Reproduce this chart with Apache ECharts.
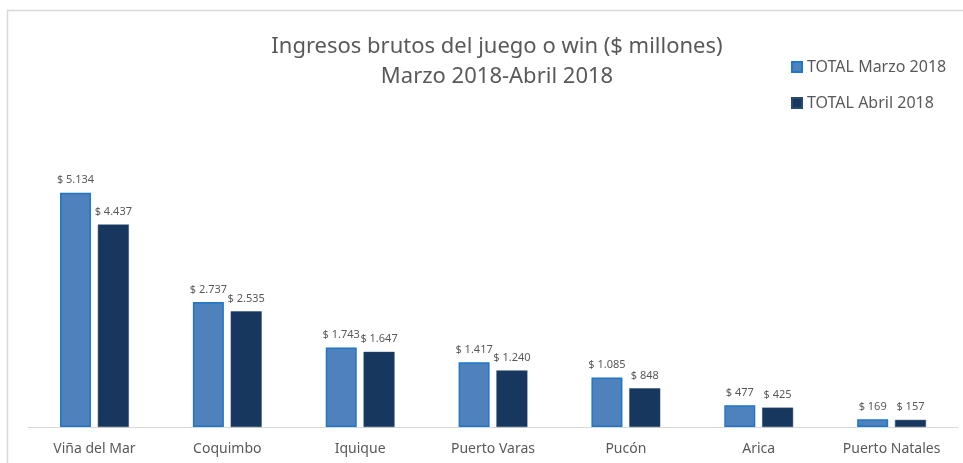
<!DOCTYPE html>
<html>
<head>
<meta charset="utf-8">
<script src="https://cdn.jsdelivr.net/npm/echarts@6/dist/echarts.min.js"></script>
<style>
  html, body { margin: 0; padding: 0; background: #fff; }
  #chart { width: 963px; height: 463px; }
</style>
</head>
<body>
<div id="chart"></div>
<script>
// datos
var casinos = ['Viña del Mar', 'Coquimbo', 'Iquique', 'Puerto Varas', 'Pucón', 'Arica', 'Puerto Natales'];
var totalMarzo = [5134, 2737, 1743, 1417, 1085, 477, 169];
var totalAbril = [4437, 2535, 1647, 1240, 848, 425, 157];
var seriesNames = ['TOTAL Marzo 2018', 'TOTAL Abril 2018'];

function fmt(v){
	var s = String(v);
	return '$ ' + s.replace(/\B(?=(\d{3})+(?!\d))/g, '.');
}

var chart = echarts.init(document.getElementById('chart'));
var labelStyle = {
	show: true,
	position: 'top',
	distance: 7,
	color: '#595959',
	fontSize: 11,
	fontFamily: 'Noto Sans',
	formatter: function(p){ return fmt(p.value); }
};

var option = {
	animation: false,
	backgroundColor: '#fff',
	textStyle: { fontFamily: 'Noto Sans' },
	title: {
		text: 'Ingresos brutos del juego o win ($ millones)\nMarzo 2018-Abril 2018',
		left: 492,
		textAlign: 'center',
		top: 27,
		textStyle: {
			color: '#595959',
			fontSize: 22,
			fontWeight: 'normal',
			fontFamily: 'Noto Sans',
			lineHeight: 30
		}
	},
	legend: {
		orient: 'vertical',
		left: 786,
		top: 54,
		itemWidth: 10,
		itemHeight: 10,
		itemGap: 20,
		icon: 'rect',
		textStyle: { color: '#595959', fontSize: 16, fontFamily: 'Noto Sans' },
		data: seriesNames
	},
	graphic: [{
		type: 'rect',
		shape: { x: 7.5, y: 10.5, width: 1000, height: 500 },
		style: { fill: 'none', stroke: '#d9d9d9', lineWidth: 1.5 },
		silent: true
	}],
	grid: { left: 28, right: 5, top: 62, bottom: 36 },
	xAxis: {
		type: 'category',
		data: casinos,
		axisLine: { lineStyle: { color: '#d9d9d9', width: 1 } },
		axisTick: { show: false },
		axisLabel: { color: '#595959', fontSize: 14, margin: 15, fontFamily: 'Noto Sans' }
	},
	yAxis: {
		type: 'value',
		min: 0,
		max: 8000,
		show: false,
		splitLine: { show: false }
	},
	series: [{
		name: seriesNames[0],
		type: 'bar',
		barWidth: 31,
		barGap: '22%',
		data: totalMarzo,
		itemStyle: { color: '#4f81bd', borderColor: '#1f77c8', borderWidth: 1.5 },
		label: labelStyle
	}, {
		name: seriesNames[1],
		type: 'bar',
		barWidth: 31,
		data: totalAbril,
		itemStyle: { color: '#17375e', borderColor: '#2a4a70', borderWidth: 0.5 },
		label: labelStyle
	}]
};
chart.setOption(option);
</script>
</body>
</html>
